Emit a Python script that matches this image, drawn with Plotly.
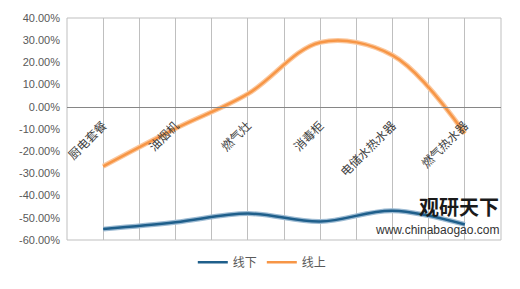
import plotly.graph_objects as go

categories = ["厨电套餐", "油烟机", "燃气灶", "消毒柜", "电储水热水器", "燃气热水器"]
offline = [-55.1, -52.0, -48.1, -51.7, -46.8, -53.0]   # 线下
online = [-26.8, -9.8, 5.8, 29.0, 23.2, -12.0]         # 线上
y_ticks = [40, 30, 20, 10, 0, -10, -20, -30, -40, -50, -60]

x = list(range(len(categories)))
fig = go.Figure()

series = [
    ("线下", offline, "#1F5F8B", "#9DBBD3"),
    ("线上", online, "#F79646", "#FBC89E"),
]
for name, vals, col, glow in series:
    fig.add_trace(go.Scatter(x=x, y=vals, mode="lines", showlegend=False, hoverinfo="skip",
                             line=dict(color=glow, width=5, shape="spline", smoothing=1)))
    fig.add_trace(go.Scatter(x=x, y=vals, mode="lines", name=name,
                             line=dict(color=col, width=2.5, shape="spline", smoothing=1)))

font_cjk = "Noto Sans CJK SC, Noto Sans, sans-serif"
fig.update_layout(
    width=520, height=289,
    margin=dict(l=67, r=19, t=15, b=36.5),
    paper_bgcolor="white", plot_bgcolor="white",
    font=dict(family=font_cjk, color="#595959", size=11),
    xaxis=dict(
        range=[-0.5, 5.5], tickvals=x, ticktext=categories, tickangle=-45,
        showgrid=True, gridcolor="#BFBFBF", gridwidth=1,
        minor=dict(tickvals=[i - 0.5 for i in range(len(categories) + 1)], showgrid=True,
                   gridcolor="#BFBFBF", gridwidth=1, ticks=""),
        anchor="free", position=0.6, showline=True, linecolor="#868686", linewidth=1,
        ticks="", zeroline=False, ticklabelstandoff=6,
        tickfont=dict(size=12, color="#404040", family=font_cjk),
    ),
    yaxis=dict(
        range=[-60, 40], tickvals=y_ticks, ticktext=[f"{v:.2f}%" for v in y_ticks],
        showgrid=False, zeroline=False, showline=False, ticks="",
        ticklabelstandoff=6, tickfont=dict(size=11, color="#595959", family="Liberation Sans, Arial"),
    ),
    legend=dict(orientation="h", x=0.45, xanchor="center", y=-0.1, yanchor="middle",
                font=dict(size=12, color="#595959"), itemwidth=30, bgcolor="rgba(0,0,0,0)"),
    shapes=[
        dict(type="rect", xref="paper", yref="paper", x0=0, x1=1, y0=0, y1=1,
             line=dict(color="#BFBFBF", width=1), layer="below"),
    ],
    annotations=[
        dict(text="<b>观研天下</b>", xref="paper", yref="paper", x=1.0, y=0.15,
             xanchor="right", yanchor="middle", showarrow=False,
             font=dict(size=20, color="#1a1a1a", family=font_cjk)),
        dict(text="www.chinabaogao.com", xref="paper", yref="paper", x=1.0, y=0.045,
             xanchor="right", yanchor="middle", showarrow=False,
             font=dict(size=12, color="#333333", family="Liberation Sans, Arial")),
    ],
)

fig.write_html("out.html")
